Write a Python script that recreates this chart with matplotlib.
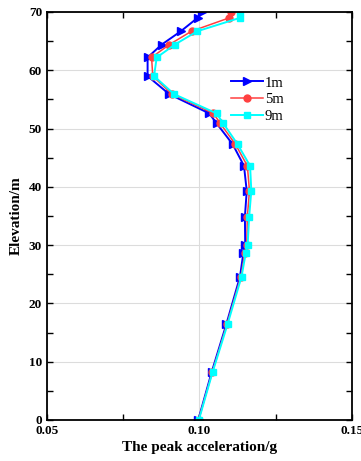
import matplotlib.pyplot as plt
import numpy as np

plt.rcParams['font.family'] = ['Liberation Serif', 'DejaVu Serif']

# elevation of the measuring points (m)
elev = [0, 8.2, 16.4, 24.6, 28.7, 30.0, 34.9, 39.3, 43.6, 47.3, 50.9, 52.6,
        55.9, 59.0, 62.2, 64.4, 66.7, 69.0, 70.0]

# peak acceleration (g) at each distance
acc_1m = [0.0996, 0.1040, 0.1088, 0.1133, 0.1144, 0.1150, 0.1149, 0.1155, 0.1146,
          0.1109, 0.1056, 0.1032, 0.0901, 0.0830, 0.0830, 0.0876, 0.0939, 0.0994, 0.1009]
acc_5m = [0.0997, 0.1042, 0.1090, 0.1136, 0.1149, 0.1155, 0.1157, 0.1164, 0.1157,
          0.1118, 0.1068, 0.1046, 0.0910, 0.0847, 0.0843, 0.0901, 0.0974, 0.1098, 0.1102]
acc_9m = [0.0998, 0.1043, 0.1092, 0.1138, 0.1152, 0.1158, 0.1163, 0.1170, 0.1166,
          0.1125, 0.1078, 0.1056, 0.0917, 0.0851, 0.0860, 0.0919, 0.0993, 0.1133, 0.1133]

fig = plt.figure(figsize=(3.61, 4.61), dpi=100)
ax = fig.add_axes([0.130, 0.089, 0.845, 0.885])

ax.plot(acc_1m, elev, color='#0000FF', marker='>', markersize=6, lw=1.4, label='1m')
ax.plot(acc_5m, elev, color='#FF4040', marker='o', markersize=5, lw=1.1, label='5m')
ax.plot(acc_9m, elev, color='#00FFFF', marker='s', markersize=5, lw=1.4, label='9m')

ax.set_xlim(0.05, 0.15)
ax.set_ylim(0, 70)
ax.set_xticks([0.05, 0.10, 0.15])
ax.set_xticklabels(['0.05', '0.10', '0.15'])
ax.set_xticks([0.075, 0.125], minor=True)
ax.set_yticks(np.arange(0, 71, 10))
ax.set_yticks(np.arange(5, 70, 10), minor=True)
ax.grid(True, which='major', color='#dcdcdc', lw=0.8)
ax.tick_params(which='both', direction='in', top=True, right=True, labelsize=9.5)
ax.tick_params(which='major', length=4, width=1)
ax.tick_params(which='minor', length=4, width=1)
for lab in ax.get_xticklabels() + ax.get_yticklabels():
    lab.set_fontweight('bold')
for s in ax.spines.values():
    s.set_linewidth(1.3)

ax.set_xlabel('The peak acceleration/g', fontsize=11, fontweight='bold', labelpad=3)
ax.set_ylabel('Elevation/m', fontsize=11, fontweight='bold', labelpad=4)

ax.legend(loc='upper left', bbox_to_anchor=(0.58, 0.86), frameon=False, fontsize=10.5,
          handlelength=2.2, handletextpad=0.1, labelspacing=0.25, borderpad=0)

fig.savefig('out.png', dpi=100)
